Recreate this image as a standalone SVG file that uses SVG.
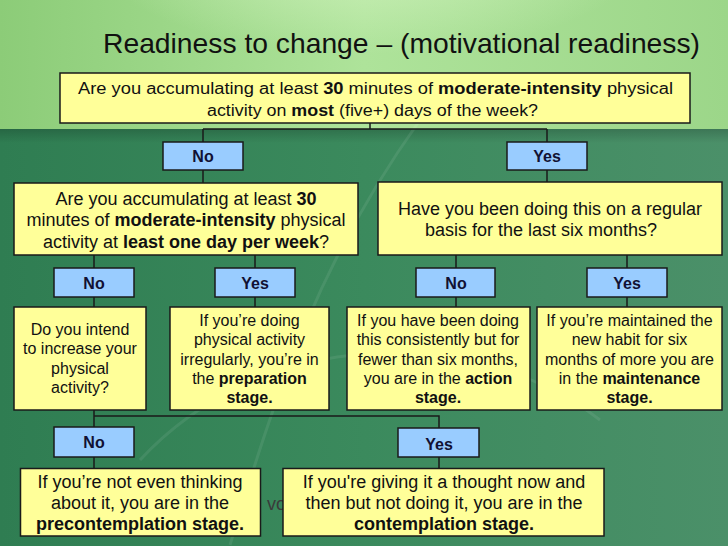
<svg xmlns="http://www.w3.org/2000/svg" width="728" height="546" viewBox="0 0 728 546">
<defs>
<linearGradient id="bgLow" x1="0" y1="0" x2="1" y2="0">
<stop offset="0" stop-color="#2f7d52"/>
<stop offset="0.5" stop-color="#3b8a5d"/>
<stop offset="1" stop-color="#4b9069"/>
</linearGradient>
<linearGradient id="bgTop" x1="0" y1="0" x2="1" y2="0">
<stop offset="0" stop-color="#8ccc78"/>
<stop offset="0.5" stop-color="#aee39a"/>
<stop offset="1" stop-color="#9cd689"/>
</linearGradient>
<linearGradient id="band" x1="0" y1="0" x2="0" y2="1">
<stop offset="0" stop-color="#000" stop-opacity="0.18"/>
<stop offset="1" stop-color="#000" stop-opacity="0"/>
</linearGradient>
<radialGradient id="glow" cx="0.5" cy="0.1" r="0.5">
<stop offset="0" stop-color="#d6f5c3" stop-opacity="0.7"/>
<stop offset="1" stop-color="#d6f5c3" stop-opacity="0"/>
</radialGradient>
<style>
.q{fill:#ffff99;stroke:#1a1a1a;stroke-width:1.5}
.a{fill:#99ccff;stroke:#1a1a1a;stroke-width:1.5}
.t{font-family:"Liberation Sans",Arial,sans-serif;fill:#111;text-anchor:middle}
.lbl{font-family:"Liberation Sans",Arial,sans-serif;font-weight:bold;font-size:16px;fill:#111133;text-anchor:middle}
.b{font-weight:bold}
.c{fill:none;stroke:#1a1a1a;stroke-width:1.5}
</style>
</defs>
<rect x="0" y="0" width="728" height="546" fill="url(#bgLow)"/>
<rect x="0" y="0" width="728" height="129" fill="url(#bgTop)"/>
<rect x="100" y="-60" width="540" height="190" fill="url(#glow)"/>
<rect x="0" y="129" width="728" height="14" fill="url(#band)"/>
<g fill="none" stroke="#ffffff" stroke-opacity="0.08" stroke-width="3">
<path d="M230,545 C280,380 320,260 420,120"/>
<path d="M140,460 C260,330 470,320 600,420"/>
</g>
<text x="103" y="53" font-family="Liberation Sans,Arial,sans-serif" font-size="28" fill="#111" textLength="597" lengthAdjust="spacingAndGlyphs">Readiness to change – (motivational readiness)</text>
<text x="267" y="510" font-family="Liberation Sans,Arial,sans-serif" font-size="18" fill="#3a3a3a">vo</text>

<g id="connectors">
<path class="c" d="M370,123 V129 M203,129 H547 M203,129 V142 M547,129 V142"/>
<path class="c" d="M203,170 V183 M547,170 V182"/>
<path class="c" d="M94,255 V268 M255,255 V268 M94,297 V307 M255,297 V307"/>
<path class="c" d="M456,255 V268 M627,255 V268 M456,297 V307 M627,297 V307"/>
<path class="c" d="M94,410 V427 M94,416 H439 V428 M94,457 V469 M439,457 V469"/>
</g>

<g id="q1">
<rect class="q" x="60" y="73" width="630" height="50"/>
<text class="t" font-size="16"><tspan x="375.5" y="94.3" textLength="595" lengthAdjust="spacingAndGlyphs">Are you accumulating at least <tspan class="b">30</tspan> minutes of  <tspan class="b">moderate-intensity</tspan> physical</tspan><tspan x="372.5" y="115.5" textLength="331" lengthAdjust="spacingAndGlyphs">activity on <tspan class="b">most</tspan> (five+) days of the week?</tspan></text>
</g>
<g id="no1"><rect class="a" x="163" y="142" width="80" height="28"/><text class="lbl" x="203" y="162">No</text></g>
<g id="yes1"><rect class="a" x="507" y="142" width="80" height="28"/><text class="lbl" x="547" y="162">Yes</text></g>

<g id="q2">
<rect class="q" x="14" y="183" width="344" height="72"/>
<text class="t" font-size="18"><tspan x="186" y="204.5">Are you accumulating at least <tspan class="b">30</tspan></tspan><tspan x="186" y="226">minutes of <tspan class="b">moderate-intensity</tspan> physical</tspan><tspan x="186" y="247.5">activity at <tspan class="b">least one day per week</tspan>?</tspan></text>
</g>
<g id="q3">
<rect class="q" x="378" y="182" width="344" height="73"/>
<text class="t" font-size="18"><tspan x="550" y="214.5">Have you been doing this on a regular</tspan><tspan x="541" y="236">basis for the last six months?</tspan></text>
</g>

<g id="no2"><rect class="a" x="54" y="268" width="80" height="29"/><text class="lbl" x="94" y="288.5">No</text></g>
<g id="yes2"><rect class="a" x="215" y="268" width="80" height="29"/><text class="lbl" x="255" y="288.5">Yes</text></g>
<g id="no3"><rect class="a" x="416" y="268" width="79" height="29"/><text class="lbl" x="456" y="288.5">No</text></g>
<g id="yes3"><rect class="a" x="587" y="268" width="80" height="29"/><text class="lbl" x="627" y="288.5">Yes</text></g>

<g id="intend">
<rect class="q" x="14" y="307" width="132" height="103"/>
<text class="t" font-size="16"><tspan x="80" y="335">Do you intend</tspan><tspan x="80" y="354.3">to increase your</tspan><tspan x="80" y="373.6">physical</tspan><tspan x="80" y="393">activity?</tspan></text>
</g>
<g id="preparation">
<rect class="q" x="170" y="307" width="159" height="103"/>
<text class="t" font-size="16"><tspan x="249.5" y="326">If you’re doing</tspan><tspan x="249.5" y="345.3">physical activity</tspan><tspan x="249.5" y="364.6">irregularly, you’re in</tspan><tspan x="249.5" y="384">the <tspan class="b">preparation</tspan></tspan><tspan x="249.5" y="403.3" class="b">stage.</tspan></text>
</g>
<g id="action">
<rect class="q" x="347" y="307" width="183" height="103"/>
<text class="t" font-size="16"><tspan x="438" y="326">If you have been doing</tspan><tspan x="438" y="345.3">this consistently but for</tspan><tspan x="438" y="364.6">fewer than six months,</tspan><tspan x="438" y="384">you are in the <tspan class="b">action</tspan></tspan><tspan x="438" y="403.3" class="b">stage.</tspan></text>
</g>
<g id="maintenance">
<rect class="q" x="537" y="307" width="185" height="103"/>
<text class="t" font-size="16"><tspan x="629.5" y="326">If you’re maintained the</tspan><tspan x="629.5" y="345.3">new habit for six</tspan><tspan x="629.5" y="364.6">months of more you are</tspan><tspan x="629.5" y="384">in the <tspan class="b">maintenance</tspan></tspan><tspan x="629.5" y="403.3" class="b">stage.</tspan></text>
</g>

<g id="no4"><rect class="a" x="54" y="427" width="80" height="30"/><text class="lbl" x="94" y="448">No</text></g>
<g id="yes4"><rect class="a" x="398" y="428" width="81" height="29"/><text class="lbl" x="439" y="450">Yes</text></g>

<g id="precontemplation">
<rect class="q" x="20.5" y="468.5" width="240" height="67.5"/>
<text class="t" font-size="18"><tspan x="140" y="487.7">If you’re not even thinking</tspan><tspan x="140" y="508.7">about it, you are in the</tspan><tspan x="140" y="529.5" class="b">precontemplation stage.</tspan></text>
</g>
<g id="contemplation">
<rect class="q" x="283" y="468.5" width="321" height="67.5"/>
<text class="t" font-size="18"><tspan x="444" y="487.7">If you're giving it a thought now and</tspan><tspan x="444" y="508.7">then but not doing it, you are in the</tspan><tspan x="444" y="529.5" class="b">contemplation stage.</tspan></text>
</g>
</svg>
